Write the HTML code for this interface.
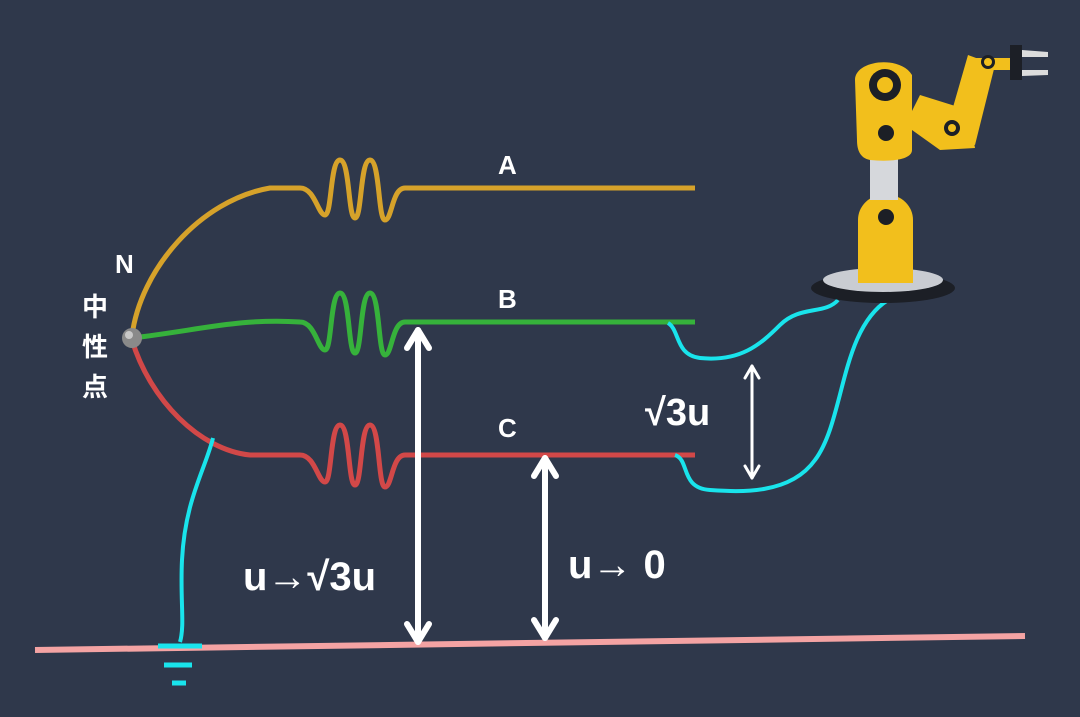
<!DOCTYPE html>
<html><head><meta charset="utf-8"><style>
html,body{margin:0;padding:0;background:#2f384b;}
svg{display:block}
text{font-family:"Liberation Sans","Noto Sans CJK SC",sans-serif;font-weight:bold;fill:#fff}
</style></head><body>
<svg width="1080" height="717" viewBox="0 0 1080 717" xmlns="http://www.w3.org/2000/svg">
<rect width="1080" height="717" fill="#2f384b"/>
<!-- ground line -->
<line x1="35" y1="650" x2="1025" y2="636" stroke="#f4a3a3" stroke-width="6"/>
<!-- A wire -->
<path d="M132,336 C140,270 200,200 270,188 L300,188 C315,188 318,215 325,215 C332,215 330,160 340,160 C350,160 348,218 355,218 C362,218 360,160 370,160 C380,160 378,220 385,220 C392,220 392,188 405,188 L695,188" fill="none" stroke="#d6a22a" stroke-width="5"/>
<!-- B wire -->
<path d="M132,338 C200,330 240,318 300,322 C315,322 318,350 325,350 C332,350 330,293 340,293 C350,293 348,353 355,353 C362,353 360,293 370,293 C380,293 378,355 385,355 C392,355 392,322 405,322 L695,322" fill="none" stroke="#36b23b" stroke-width="5"/>
<!-- C wire -->
<path d="M132,340 C150,400 200,450 250,455 L300,455 C315,455 318,482 325,482 C332,482 330,425 340,425 C350,425 348,485 355,485 C362,485 360,425 370,425 C380,425 378,487 385,487 C392,487 392,455 405,455 L695,455" fill="none" stroke="#d24848" stroke-width="5"/>
<circle cx="132" cy="338" r="10" fill="#8a8a8a"/>
<circle cx="129" cy="335" r="4" fill="#c8c8c8"/>
<!-- cyan lines -->
<path d="M213,438 C205,470 185,500 182,560 C180,600 185,625 180,642" fill="none" stroke="#19e4ec" stroke-width="4"/>
<line x1="158" y1="646" x2="202" y2="646" stroke="#19e4ec" stroke-width="5"/>
<line x1="164" y1="665" x2="192" y2="665" stroke="#19e4ec" stroke-width="5"/>
<line x1="172" y1="683" x2="186" y2="683" stroke="#19e4ec" stroke-width="5"/>
<path d="M668,323 C680,330 675,355 700,358 C740,362 760,345 780,325 C800,305 825,315 838,300" fill="none" stroke="#19e4ec" stroke-width="4"/>
<path d="M675,455 C690,460 680,488 710,490 C740,492 790,495 815,460 C845,420 840,330 888,300" fill="none" stroke="#19e4ec" stroke-width="4"/>
<!-- arrows -->
<g stroke="#fff" fill="none" stroke-linecap="round" stroke-linejoin="round">
<line x1="418" y1="330" x2="418" y2="642" stroke-width="6"/>
<polyline points="407,348 418,330 429,348" stroke-width="6"/>
<polyline points="407,624 418,642 429,624" stroke-width="6"/>
<line x1="545" y1="458" x2="545" y2="638" stroke-width="6"/>
<polyline points="534,476 545,458 556,476" stroke-width="6"/>
<polyline points="534,620 545,638 556,620" stroke-width="6"/>
<line x1="752" y1="366" x2="752" y2="478" stroke-width="3"/>
<polyline points="745,378 752,366 759,378" stroke-width="3"/>
<polyline points="745,466 752,478 759,466" stroke-width="3"/>
</g>
<!-- labels -->
<text x="498" y="174" font-size="26">A</text>
<text x="498" y="308" font-size="26">B</text>
<text x="498" y="437" font-size="26">C</text>
<text x="115" y="273" font-size="26">N</text>
<text x="82" y="316" font-size="26">中</text>
<text x="82" y="356" font-size="26">性</text>
<text x="82" y="396" font-size="26">点</text>
<text x="645" y="425" font-size="38">√3u</text>
<text x="243" y="590" font-size="40">u→√3u</text>
<text x="568" y="578" font-size="40">u→ 0</text>
<!-- robot -->
<ellipse cx="883" cy="288" rx="72" ry="15" fill="#1c1f26"/>
<ellipse cx="883" cy="280" rx="60" ry="12" fill="#c9ccd2"/>
<rect x="858" y="195" width="55" height="88" rx="25" fill="#f2bf1c"/>
<rect x="858" y="240" width="55" height="43" fill="#f2bf1c"/>
<circle cx="886" cy="217" r="8" fill="#1c1f26"/>
<rect x="870" y="150" width="28" height="50" fill="#d6d8dc"/>
<path d="M920,95 L968,110 L975,148 L940,150 L905,125 Z" fill="#f2bf1c"/>
<path d="M968,55 L995,65 L975,145 L945,135 Z" fill="#f2bf1c"/>
<rect x="975" y="58" width="35" height="12" fill="#f2bf1c"/>
<circle cx="988" cy="62" r="7" fill="#1c1f26"/><circle cx="988" cy="62" r="4" fill="#f2bf1c"/>
<rect x="1010" y="45" width="12" height="35" fill="#1c1f26"/>
<path d="M1022,50 L1048,52 L1048,57 L1022,57 Z M1022,70 L1048,70 L1048,75 L1022,76 Z" fill="#dcdcdc"/>
<circle cx="952" cy="128" r="8" fill="#1c1f26"/><circle cx="952" cy="128" r="4" fill="#f2bf1c"/>
<path d="M855,80 C855,60 900,55 912,75 L912,150 C912,160 890,162 870,160 C860,158 857,150 857,140 Z" fill="#f2bf1c"/>
<circle cx="885" cy="85" r="16" fill="#1c1f26"/><circle cx="885" cy="85" r="8" fill="#f2bf1c"/>
<circle cx="886" cy="133" r="8" fill="#1c1f26"/>
</svg>
</body></html>
